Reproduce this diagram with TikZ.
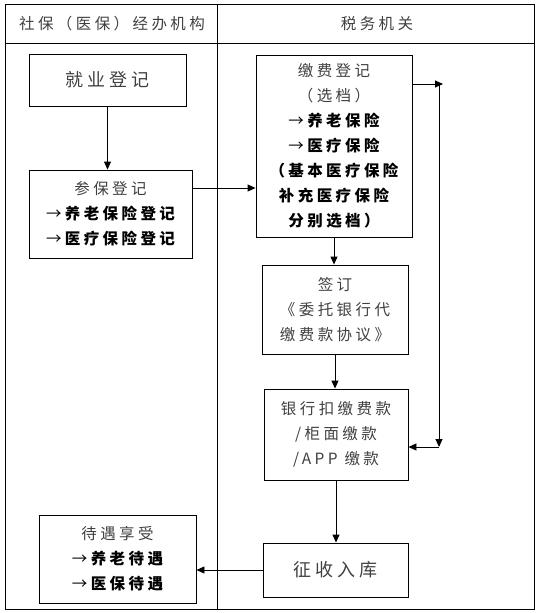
\documentclass[tikz,border=0pt]{standalone}
\usepackage{fontspec}
\setmainfont{Noto Sans CJK SC}[LetterSpace=22]
\usetikzlibrary{arrows.meta}
\newcommand{\nf}{\fontsize{15.5}{25}\selectfont}
\newcommand{\bigf}{\fontsize{18}{25}\selectfont}
\newcommand{\bl}[1]{{\color{black}→\hspace{3.4pt}\bfseries#1}}
\tikzset{
  box/.style={draw=black, line width=0.9pt, inner sep=0pt, align=center, font=\nf, text=black!75},
  lbl/.style={inner sep=0pt, font=\nf, text=black!75},
  arr/.style={-{Triangle[length=8pt,width=7pt]}, line width=0.9pt},
  frame/.style={line width=0.9pt}
}
\begin{document}
\begin{tikzpicture}[x=1pt,y=-1pt]
\useasboundingbox (0,0) rectangle (538,613);
% frame
\draw[frame] (5,4) rectangle (534,609);
\draw[frame] (5,43) -- (534,43);
\draw[frame] (217,4) -- (217,609);
% headers
\node[lbl] (h1) at (112,24) {社保（医保）经办机构};
\node[lbl] (h2) at (377,24) {税务机关};
% boxes
\node[box, font=\bigf, minimum width=157, minimum height=52] (jiuye) at (107.5,80) {就业登记};
\node[box, minimum width=163, minimum height=88] (canbao) at (110.5,214)
  {参保登记\\ \bl{养老保险登记}\\ \bl{医疗保险登记}};
\node[box, minimum width=156, minimum height=182] (jiaofei) at (334,146)
  {缴费登记\\（选档）\\ \bl{养老保险}\\ \bl{医疗保险}\\ {\bfseries\color{black}（基本医疗保险}\\ {\bfseries\color{black}补充医疗保险}\\ {\bfseries\color{black}分别选档）}};
\node[box, minimum width=146, minimum height=89] (qianding) at (335,309.5)
  {签订\\《委托银行代\\缴费款协议》};
\node[box, minimum width=144, minimum height=91] (yinhang) at (336,434.5)
  {银行扣缴费款\\/柜面缴款\\/APP 缴款};
\node[box, font=\bigf, minimum width=145, minimum height=54] (zhengshou) at (335.5,570) {征收入库};
\node[box, minimum width=157, minimum height=88] (daiyu) at (117.5,559)
  {待遇享受\\ \bl{养老待遇}\\ \bl{医保待遇}};
% connectors
\coordinate (c1) at (200,188);
\coordinate (r1) at (443,84);
\coordinate (r2) at (439,84);
\coordinate (r3) at (439,447);
\draw[arr] (jiuye.south) -- (jiuye.south |- canbao.north);
\draw[arr] (canbao.east |- c1) -- (jiaofei.west |- c1);
\draw[arr] (jiaofei.east |- r1) -- (r1);
\draw[arr] (r2) -- (r3);
\draw[arr] (r3) -- (yinhang.east |- r3);
\draw[arr] (jiaofei.south) -- (jiaofei.south |- qianding.north);
\draw[arr] (qianding.south) -- (qianding.south |- yinhang.north);
\draw[arr] (yinhang.south) -- (yinhang.south |- zhengshou.north);
\draw[arr] (zhengshou.west) -- (zhengshou.west -| daiyu.east);
\end{tikzpicture}
\end{document}
